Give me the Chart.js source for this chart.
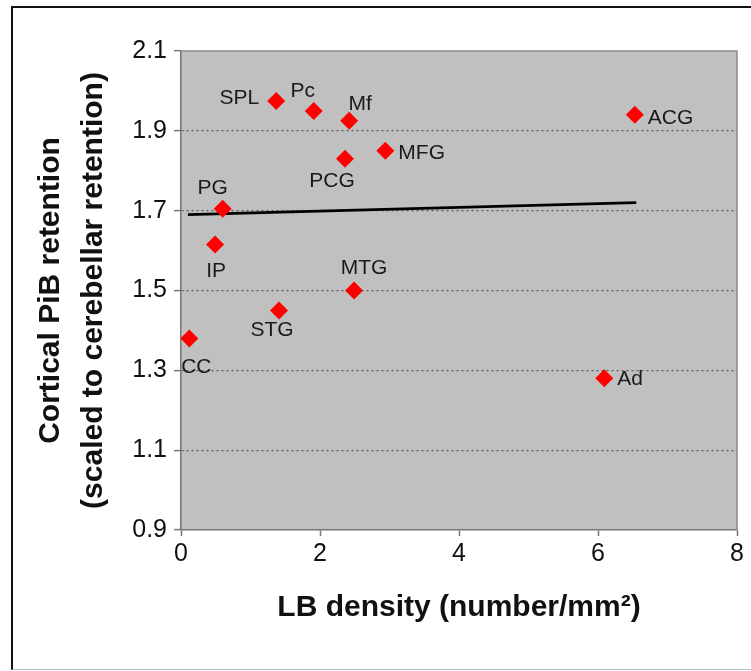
<!DOCTYPE html>
<html>
<head>
<meta charset="utf-8">
<script src="https://cdn.jsdelivr.net/npm/chart.js@4"></script>
<style>
  html, body { margin: 0; padding: 0; background: #fff; overflow: hidden; }
  #wrap { position: relative; width: 751px; height: 671px; }
  #frame { position: absolute; left: 11px; top: 6px; width: 760px; height: 661px;
           border-top: 2px solid #111; border-left: 2px solid #111; border-bottom: 1px solid #bbb; }
  canvas { position: absolute; left: 0; top: 0; }
</style>
</head>
<body>
<div id="wrap">
  <div id="frame"></div>
  <canvas id="chart" width="751" height="671"></canvas>
</div>
<script>
// brain regions and their values
const regions = ['SPL', 'Pc', 'Mf', 'PCG', 'MFG', 'ACG', 'PG', 'IP', 'MTG', 'STG', 'CC', 'Ad'];
const lbDensity = [1.37, 1.91, 2.42, 2.36, 2.94, 6.53, 0.60, 0.49, 2.49, 1.41, 0.12, 6.09];
const pibRetention = [1.975, 1.95, 1.925, 1.83, 1.85, 1.94, 1.705, 1.615, 1.50, 1.45, 1.38, 1.28];

// trend line end points
const trendX = [0.1, 6.55];
const trendY = [1.69, 1.72];

// axis ranges
const xTicks = [0, 2, 4, 6, 8];
const yTicks = [0.9, 1.1, 1.3, 1.5, 1.7, 1.9, 2.1];

// where each label sits relative to its marker: [dx, dy, align]
const labelPlacement = {
  SPL: [-17, -3, 'right'], Pc: [-11, -20, 'center'], Mf: [11, -17, 'center'],
  PCG: [-13, 22, 'center'], MFG: [13, 2, 'left'], ACG: [13, 3, 'left'],
  PG: [-10, -20, 'center'], IP: [1, 27, 'center'], MTG: [10, -22, 'center'],
  STG: [-7, 20, 'center'], CC: [7, 29, 'center'], Ad: [13, 1, 'left']
};

const plotArea = {
  id: 'plotArea',
  beforeDraw(chart) {
    const {ctx, chartArea: a} = chart;
    ctx.save();
    ctx.fillStyle = '#c0c0c0';
    ctx.fillRect(a.left, a.top, a.right - a.left, a.bottom - a.top);
    ctx.restore();
  },
  beforeDatasetsDraw(chart) {
    const {ctx, chartArea: a} = chart;
    ctx.save();
    ctx.strokeStyle = '#8a8a8a';
    ctx.lineWidth = 1.5;
    ctx.beginPath();
    ctx.moveTo(a.left, a.top);
    ctx.lineTo(a.right, a.top);
    ctx.lineTo(a.right, a.bottom);
    ctx.stroke();
    ctx.restore();
  }
};

const pointLabels = {
  id: 'pointLabels',
  afterDatasetsDraw(chart) {
    const {ctx} = chart;
    const x = chart.scales.x, y = chart.scales.y;
    ctx.save();
    ctx.font = '21px "Liberation Sans", Arial, sans-serif';
    ctx.fillStyle = '#1a1a1a';
    ctx.textBaseline = 'middle';
    regions.forEach((name, i) => {
      const p = labelPlacement[name];
      ctx.textAlign = p[2];
      ctx.fillText(name, x.getPixelForValue(lbDensity[i]) + p[0], y.getPixelForValue(pibRetention[i]) + p[1]);
    });
    ctx.restore();
  }
};

const tickFont = { family: '"Liberation Sans", Arial, sans-serif', size: 25 };
const titleFont = { family: '"Liberation Sans", Arial, sans-serif', size: 30, weight: 'bold' };

new Chart(document.getElementById('chart'), {
  type: 'scatter',
  data: {
    datasets: [
      {
        label: 'Regions',
        data: lbDensity.map((v, i) => ({ x: v, y: pibRetention[i] })),
        pointStyle: 'rectRot',
        pointRadius: 9,
        backgroundColor: '#ff0000',
        borderColor: '#ff0000',
        borderWidth: 0
      },
      {
        label: 'Trend',
        type: 'line',
        data: trendX.map((v, i) => ({ x: v, y: trendY[i] })),
        borderColor: '#000',
        borderWidth: 2.8,
        pointRadius: 0,
        fill: false
      }
    ]
  },
  options: {
    responsive: false,
    animation: false,
    layout: { padding: { left: 0, top: 51, right: 14, bottom: 0 } },
    plugins: {
      legend: { display: false },
      tooltip: { enabled: false }
    },
    scales: {
      x: {
        type: 'linear',
        min: xTicks[0],
        max: xTicks[xTicks.length - 1],
        afterFit(scale) { scale.height = 141; },
        afterBuildTicks(scale) { scale.ticks = xTicks.map(v => ({ value: v })); },
        ticks: { font: tickFont, color: '#111', padding: 3, maxRotation: 0 },
        grid: { drawOnChartArea: false, tickLength: 6, tickColor: '#777', tickWidth: 1.5 },
        border: { color: '#777', width: 1.5 },
        title: { display: true, text: 'LB density (number/mm²)', font: titleFont, color: '#111', padding: { top: 0, bottom: 45 } }
      },
      y: {
        type: 'linear',
        min: yTicks[0],
        max: yTicks[yTicks.length - 1],
        afterFit(scale) { scale.width = 181; },
        afterBuildTicks(scale) { scale.ticks = yTicks.map(v => ({ value: v })); },
        ticks: { font: tickFont, color: '#111', padding: 7, callback: v => Number(v).toFixed(1) },
        grid: {
          color: c => (c.tick && (c.tick.value === yTicks[0] || c.tick.value === yTicks[yTicks.length - 1])) ? 'rgba(0,0,0,0)' : '#5a5a5a',
          lineWidth: 1.2,
          tickLength: 7,
          tickColor: '#777',
          tickWidth: 1.5,
          tickBorderDash: []
        },
        border: { color: '#777', width: 1.5, dash: [2, 3] },
        title: {
          display: true,
          text: ['Cortical PiB retention', '(scaled to cerebellar retention)'],
          font: { family: '"Liberation Sans", Arial, sans-serif', size: 30, weight: 'bold', lineHeight: 1.43 },
          color: '#111',
          padding: { top: 29, bottom: 0 }
        }
      }
    }
  },
  plugins: [plotArea, pointLabels]
});
</script>
</body>
</html>
